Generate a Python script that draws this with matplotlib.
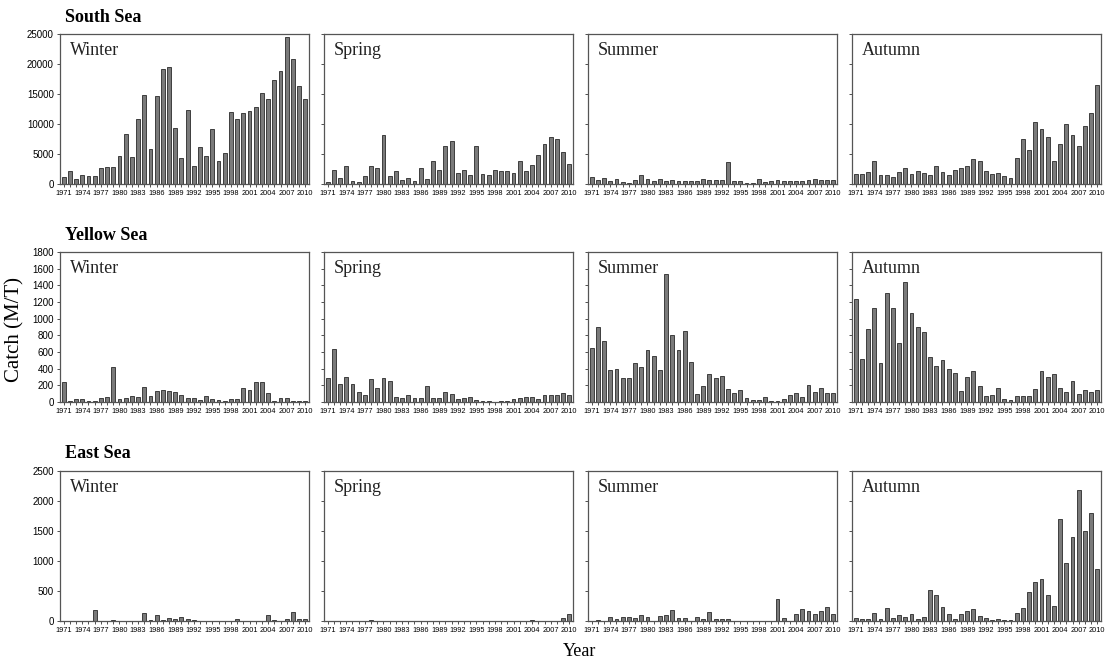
import matplotlib
matplotlib.use("Agg")
import matplotlib.pyplot as plt
from matplotlib.ticker import MultipleLocator

years = list(range(1971, 2011))
seasons = ["Winter", "Spring", "Summer", "Autumn"]
seas = ["South Sea", "Yellow Sea", "East Sea"]

# South Sea
south_winter = [1100, 2100, 900, 1500, 1400, 1400, 2600, 2800, 2900, 4700,
                8400, 4500, 10900, 14800, 5900, 14600, 19100, 19500, 9400, 4400,
                12400, 3000, 6100, 4700, 9100, 3800, 5100, 12000, 10800, 11900,
                12200, 12800, 15200, 14100, 17300, 18800, 24500, 20800, 16300, 14100]
south_spring = [400, 2300, 1000, 3000, 450, 300, 1300, 3000, 2600, 8200,
                1300, 2200, 700, 1000, 450, 2600, 800, 3800, 2400, 6400,
                7100, 1900, 2300, 1500, 6400, 1600, 1500, 2300, 2100, 2100,
                1900, 3800, 2200, 3200, 4900, 6700, 7800, 7500, 5300, 3300]
south_summer = [1150, 650, 1050, 500, 850, 350, 150, 650, 1500, 800,
                450, 800, 450, 650, 500, 450, 450, 450, 850, 650,
                650, 650, 3650, 450, 450, 100, 150, 800, 350, 450,
                650, 500, 450, 500, 450, 750, 900, 700, 700, 700]
south_autumn = [1700, 1600, 2000, 3800, 1450, 1450, 1250, 2000, 2600, 1700,
                2250, 1800, 1450, 3050, 2000, 1450, 2400, 2600, 3050, 4250,
                3900, 2250, 1700, 1900, 1350, 1050, 4300, 7500, 5600, 10300,
                9150, 7800, 3900, 6600, 9950, 8150, 6300, 9600, 11900, 16450]

# Yellow Sea
yellow_winter = [244, 8, 36, 32, 16, 8, 48, 60, 416, 36,
                 48, 76, 56, 180, 72, 136, 144, 136, 120, 84,
                 44, 48, 28, 76, 32, 20, 12, 32, 32, 168,
                 140, 236, 240, 108, 12, 48, 48, 12, 8, 8]
yellow_spring = [284, 640, 212, 300, 216, 120, 88, 276, 164, 284,
                 252, 60, 52, 88, 48, 48, 188, 52, 52, 124,
                 96, 32, 48, 56, 24, 12, 8, 0, 12, 12,
                 36, 48, 56, 60, 36, 80, 80, 80, 104, 80]
yellow_summer = [644, 896, 732, 384, 400, 284, 284, 464, 416, 624,
                 552, 384, 1540, 804, 628, 856, 484, 96, 192, 340,
                 284, 316, 156, 112, 144, 48, 24, 24, 60, 12,
                 12, 32, 88, 104, 64, 200, 124, 168, 112, 104]
yellow_autumn = [1240, 520, 872, 1124, 472, 1312, 1124, 708, 1436, 1068,
                 900, 840, 540, 432, 508, 396, 348, 136, 304, 368,
                 192, 76, 88, 168, 32, 24, 76, 76, 76, 156,
                 372, 304, 336, 172, 124, 252, 96, 148, 124, 144]

# East Sea
east_winter = [5, 5, 5, 5, 5, 178, 5, 5, 22, 0,
               5, 5, 5, 128, 22, 100, 17, 56, 39, 72,
               28, 17, 0, 0, 0, 0, 0, 0, 28, 5,
               5, 5, 5, 106, 22, 5, 33, 150, 28, 28]
east_spring = [3, 5, 3, 5, 3, 5, 3, 18, 5, 3,
               5, 3, 3, 3, 5, 3, 3, 5, 5, 5,
               3, 5, 3, 3, 3, 3, 3, 5, 5, 3,
               5, 5, 5, 10, 5, 5, 3, 5, 50, 120]
east_summer = [5, 22, 5, 61, 28, 72, 72, 44, 100, 67,
               5, 89, 106, 189, 56, 56, 5, 72, 39, 156,
               28, 28, 39, 3, 5, 0, 3, 5, 3, 3,
               361, 44, 3, 122, 206, 167, 122, 161, 239, 122]
east_autumn = [45, 39, 28, 129, 39, 213, 45, 95, 73, 112,
               28, 62, 517, 438, 230, 112, 39, 112, 169, 197,
               79, 45, 11, 39, 11, 11, 129, 225, 483, 657,
               708, 427, 258, 1702, 966, 1399, 2180, 1494, 1803, 860]

rows = [
    [south_winter, south_spring, south_summer, south_autumn],
    [yellow_winter, yellow_spring, yellow_summer, yellow_autumn],
    [east_winter, east_spring, east_summer, east_autumn],
]
ymax = [25000, 1800, 2500]
ystep = [5000, 200, 500]

serif = "Liberation Serif"
sans = "Liberation Sans"

W, H = 1114, 664
fig = plt.figure(figsize=(W / 100, H / 100), dpi=100)
fig.patch.set_facecolor("white")

lefts = [60, 324, 588, 852]
tops = [34, 252, 471]
pw, ph = 249, 150

for r, row in enumerate(rows):
    fig.text(65 / W, 1 - (tops[r] - 17) / H, seas[r], fontsize=13,
             fontweight="bold", family=serif, va="center", ha="left")
    for c, vals in enumerate(row):
        ax = fig.add_axes([lefts[c] / W, 1 - (tops[r] + ph) / H, pw / W, ph / H])
        ax.bar(years, vals, width=0.62, color="#7a7a7a", edgecolor="#2a2a2a",
               linewidth=0.6)
        ax.set_xlim(1970.4, 2010.6)
        ax.set_ylim(0, ymax[r])
        ax.yaxis.set_major_locator(MultipleLocator(ystep[r]))
        ax.set_xticks(years[::3])
        ax.set_xticklabels([str(y) for y in years[::3]], fontsize=5.3,
                           family=sans)
        ax.xaxis.set_minor_locator(MultipleLocator(1))
        ax.tick_params(axis="x", which="both", length=2.5, width=0.6,
                       pad=2, color="#333333")
        ax.tick_params(axis="y", length=2.5, width=0.6, pad=2,
                       labelsize=7, color="#333333")
        for lab in ax.get_yticklabels():
            lab.set_family(sans)
        if c > 0:
            ax.set_yticklabels([])
        for s in ax.spines.values():
            s.set_color("#555555")
            s.set_linewidth(0.9)
        ax.text(0.04, 0.89, seasons[c], transform=ax.transAxes, fontsize=13,
                family=serif, va="center", ha="left", color="#222222")

fig.text(15 / W, 1 - 330 / H, "Catch (M/T)", rotation=90, fontsize=15,
         family=serif, va="center", ha="center")
fig.text(580 / W, 1 - 651 / H, "Year", fontsize=13, family=serif,
         va="center", ha="center")

fig.savefig("out.png", dpi=100)
